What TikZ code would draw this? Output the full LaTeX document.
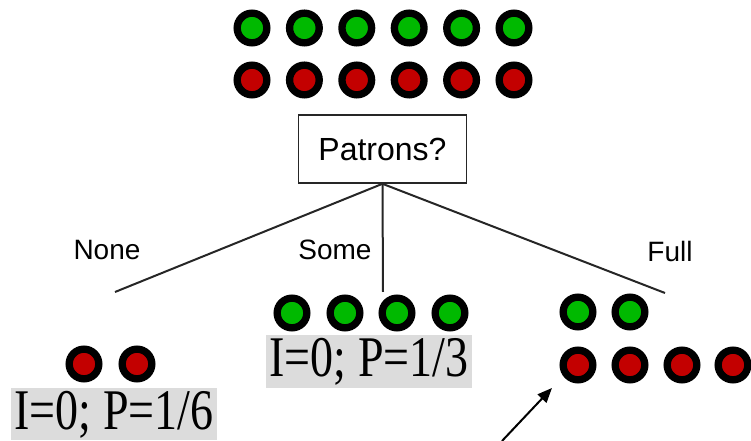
\documentclass[tikz,border=0pt]{standalone}
\usepackage{fontspec}
\setmainfont{Liberation Serif}
\newfontfamily\helv{Liberation Sans}
\usetikzlibrary{arrows.meta}
\definecolor{ballgreen}{RGB}{0,185,0}
\definecolor{ballred}{RGB}{195,0,0}
\definecolor{labelgrey}{RGB}{220,220,220}
\tikzset{
  ball/.style={circle, draw=black, line width=5.5pt, minimum size=22.25pt, inner sep=0pt},
  yes/.style={ball, fill=ballgreen},
  no/.style={ball, fill=ballred},
  question/.style={draw=black!85, line width=1.2pt, minimum width=126pt, minimum height=51pt, font=\helv\fontsize{24}{28}\selectfont},
  answer/.style={font=\helv\fontsize{21}{25}\selectfont, inner sep=0pt},
  branch/.style={line width=1.5pt, black!85},
  score/.style={fill=labelgrey, minimum width=155pt, text height=31.25pt, text depth=8pt, inner sep=0pt, font=\fontsize{34.5}{40}\selectfont},
  pointer/.style={-{Triangle[length=11pt,width=9pt]}, line width=1.5pt}
}
\begin{document}
\begin{tikzpicture}[x=0.75pt, y=-0.75pt]
    \useasboundingbox (0,0) rectangle (751,441);

    \foreach \i in {0,...,5}{
        \node [yes] (top green \i) at (252+52.4*\i,28) {};
        \node [no] (top red \i) at (252+52.4*\i,80) {};
    }
    \node [question] (patrons) at (382.5,149) {Patrons?};

    \coordinate (none end) at (115,292);
    \coordinate (some end) at (383,292);
    \coordinate (full end) at (665,293);
    \draw [branch] (patrons.south) -- (none end);
    \draw [branch] (patrons.south) -- (some end);
    \draw [branch] (patrons.south) -- (full end);
    \node [answer] (none label) at (107,250) {None};
    \node [answer] (some label) at (335,250) {Some};
    \node [answer] (full label) at (670,251) {Full};

    % None
    \node [no] (none red 1) at (84,364) {};
    \node [no] (none red 2) at (137,364) {};
    \node [score] (none score) at (114,414) {\scalebox{1}[1.25]{I=0; P=1/6}};

    % Some
    \foreach \x [count=\n] in {292,345,397,450}
        \node [yes] (some green \n) at (\x,313) {};
    \node [score] (some score) at (369,361.5) {\scalebox{1}[1.25]{I=0; P=1/3}};

    % Full
    \foreach \x [count=\n] in {578,630}
        \node [yes] (full green \n) at (\x,312) {};
    \foreach \x [count=\n] in {578,630,682,733}
        \node [no] (full red \n) at (\x,365) {};

    \coordinate (arrow tail) at (502,441);
    \coordinate (arrow tip) at (552,388);
    \draw [pointer] (arrow tail) -- (arrow tip);
\end{tikzpicture}
\end{document}
